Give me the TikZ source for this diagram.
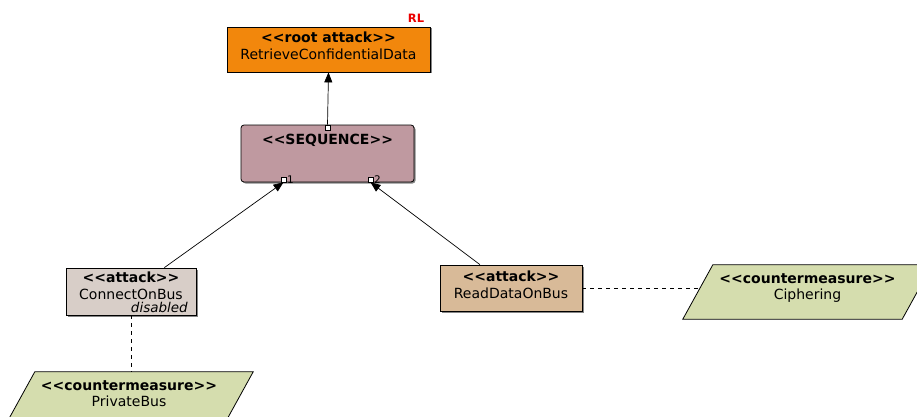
\documentclass[tikz,border=0pt]{standalone}
\usepackage{fontspec}
\setmainfont{DejaVu Sans}
\usetikzlibrary{arrows.meta,shadows,calc}
\pgfdeclarelayer{bg}
\pgfsetlayers{bg,main}
\definecolor{rootorange}{RGB}{242,135,12}
\definecolor{seqmauve}{RGB}{191,153,160}
\definecolor{disgray}{RGB}{216,206,200}
\definecolor{attan}{RGB}{216,186,152}
\definecolor{cmgreen}{RGB}{213,221,174}
\definecolor{rlred}{RGB}{235,0,0}
\newcommand\stereo[1]{\textless\kern0pt\textless #1\textgreater\kern0pt\textgreater}
\begin{document}
\begin{tikzpicture}[x=1pt,y=-1pt,
  shad/.style={drop shadow={shadow xshift=1.5pt,shadow yshift=-1.5pt,fill=black!60,opacity=0.8}},
  box/.style={draw=black, line width=0.8pt, inner sep=0pt, align=center,
    font=\fontsize{14}{16.7}\selectfont, text height=26.7pt, text depth=6.3pt, shad},
  cmnode/.style={inner sep=0pt, align=center, font=\fontsize{14}{16.7}\selectfont,
    text height=26.7pt, text depth=11.3pt, minimum width=219pt, minimum height=54pt},
  cmshape/.style={draw=black, line width=0.8pt, fill=cmgreen},
  port/.style={draw=black, fill=white, line width=0.6pt, minimum size=5pt, inner sep=0pt},
  portlbl/.style={font=\fontsize{10.5}{10.5}\selectfont, inner sep=0.5pt},
  arr/.style={line width=0.7pt, -{Triangle[length=10pt,width=8pt]}},
  dashline/.style={line width=0.7pt, dash pattern=on 4pt off 4pt}
]
\useasboundingbox (0,0) rectangle (917,417);

% nodes
\node[box, fill=rootorange, minimum width=203pt, minimum height=45pt] (root) at (328.5,49.5)
  {{\bfseries\stereo{root attack}}\\RetrieveConfidentialData};
\node[font=\fontsize{11.5}{11.5}\selectfont\bfseries, text=rlred, inner sep=0pt, anchor=base] (rl) at (416,23) {RL};

\node[box, fill=seqmauve, rounded corners=3pt, minimum width=173pt, minimum height=57pt,
  text height=10pt, text depth=28.4pt] (seq) at (327.5,153.5) {\bfseries\stereo{SEQUENCE}};

\node[port] (p0) at (327.5,127.5) {};
\node[port, label={[portlbl]right:1}] (p1) at (283.5,179.5) {};
\node[port, label={[portlbl]right:2}] (p2) at (370.5,179.5) {};

\node[box, fill=disgray, minimum width=130pt, minimum height=47pt, text depth=11pt] (con) at (131,291.5)
  {{\bfseries\stereo{attack}}\\ConnectOnBus};
\node[font=\fontsize{13.5}{13.5}\selectfont\itshape, inner sep=0pt, anchor=base east] (dis) at (188,312.5) {disabled};

\node[box, fill=attan, minimum width=142pt, minimum height=46pt, text depth=6pt] (read) at (511,288)
  {{\bfseries\stereo{attack}}\\ReadDataOnBus};

\node[cmnode] (cipher) at (807.5,292) {{\bfseries\stereo{countermeasure}}\\Ciphering};
\node[cmnode, minimum width=218pt] (pbus) at (129,399) {{\bfseries\stereo{countermeasure}}\\PrivateBus};

\begin{pgfonlayer}{bg}
\draw[cmshape] ($(cipher.north west)+(15,0)$) -- ($(cipher.north east)+(15,0)$)
  -- ($(cipher.south east)+(-15,0)$) -- ($(cipher.south west)+(-15,0)$) -- cycle;
\draw[cmshape] ($(pbus.north west)+(15,0)$) -- ($(pbus.north east)+(15,0)$)
  -- ($(pbus.south east)+(-15,0)$) -- ($(pbus.south west)+(-15,0)$) -- cycle;
\end{pgfonlayer}

% connectors
\draw[arr] (p0.north) -- (root.south);
\draw[arr] (con) -- (p1.south);
\draw[arr] (read) -- (p2.south);
\draw[dashline] (read.east) -- (read.east -| cipher.west);
\draw[dashline] (con.south) -- (con.south |- pbus.north);
\end{tikzpicture}
\end{document}
